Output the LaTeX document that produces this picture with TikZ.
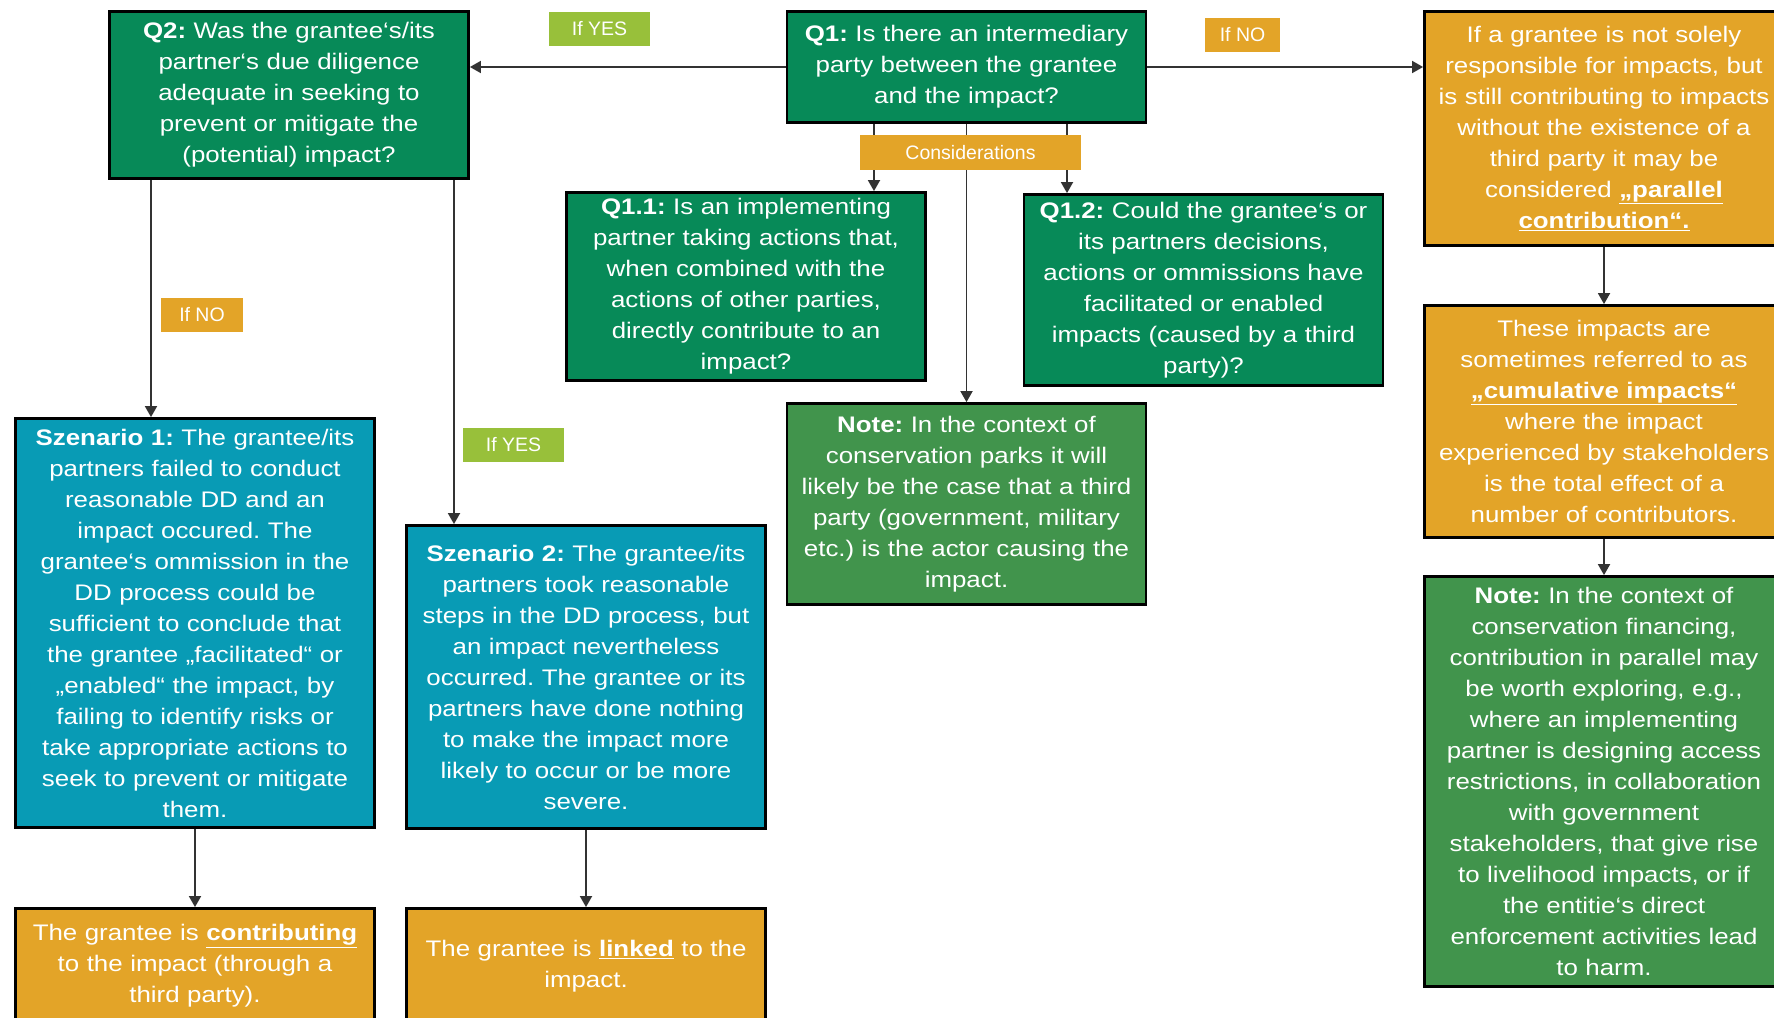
\documentclass[tikz,border=0pt]{standalone}
\usepackage{fontspec}
\setmainfont{Liberation Sans}
\newfontfamily\boxfont{Liberation Sans}[FakeStretch=1.15]
\usepackage{tikz}
\usetikzlibrary{arrows.meta,positioning}
\definecolor{qgreen}{HTML}{078A58}
\definecolor{ngreen}{HTML}{41944C}
\definecolor{dorange}{HTML}{E3A428}
\definecolor{dteal}{HTML}{089BB5}
\definecolor{lgreen}{HTML}{98C03A}
\newcommand{\ul}[1]{\underline{\textbf{#1}}}
\frenchspacing

\begin{document}
\begin{tikzpicture}[x=1pt, y=-1pt,
    box/.style={draw=black, line width=2.8pt, minimum width=359pt, text width=356pt,
                align=center, inner sep=0pt, text=white,
                font=\boxfont\fontsize{22.5}{31}\selectfont},
    qbox/.style={box, fill=qgreen},
    nbox/.style={box, fill=ngreen},
    obox/.style={box, fill=dorange},
    sbox/.style={box, fill=dteal},
    tag/.style={minimum height=34pt, inner sep=0pt, text=white,
                font=\fontsize{19.5}{22}\selectfont},
    yes/.style={tag, fill=lgreen},
    no/.style={tag, fill=dorange},
    arr/.style={-{Triangle[length=11pt, width=12pt]}, line width=1.8pt, black!80}
  ]
  \path[use as bounding box] (0,0) rectangle (1774,1017);
  \clip (0,0) rectangle (1774,1017);
  % --- Top row ---
  \node[qbox, minimum height=167pt] (Q2) at (289, 95)
    {\textbf{Q2:} Was the grantee‘s/its\\ partner‘s due diligence\\
     adequate in seeking to\\ prevent or mitigate the\\ (potential) impact?};
  \node[qbox, minimum height=111pt] (Q1) at (966.5, 67)
    {\textbf{Q1:} Is there an intermediary\\ party between the grantee\\
     and the impact?};
  \node[obox, minimum height=234pt] (R1) at (1604, 128.5)
    {If a grantee is not solely\\ responsible for impacts, but\\
     is still contributing to impacts\\ without the existence of a\\
     third party it may be\\ considered \ul{„parallel}\\ \ul{contribution“.}};
  \node[yes, minimum width=101pt] (yesQ2) at (599.5, 29) {If YES};
  \node[no, minimum width=75pt] (noQ1) at (1242.5, 35) {If NO};
  % --- Considerations ---
  \node[qbox, minimum height=188pt] (Q11) at (746, 286.5)
    {\textbf{Q1.1:} Is an implementing\\ partner taking actions that,\\
     when combined with the\\ actions of other parties,\\
     directly contribute to an\\ impact?};
  \node[qbox, minimum height=191pt] (Q12) at (1203.5, 290)
    {\textbf{Q1.2:} Could the grantee‘s or\\ its partners decisions,\\
     actions or ommissions have\\ facilitated or enabled\\
     impacts (caused by a third\\ party)?};
  \node[nbox, minimum height=201pt] (noteM) at (966.5, 504)
    {\textbf{Note:} In the context of\\ conservation parks it will\\
     likely be the case that a third\\ party (government, military\\
     etc.) is the actor causing the\\ impact.};
  % --- Right column ---
  \node[obox, minimum height=232pt] (R2) at (1604, 421.5)
    {These impacts are\\ sometimes referred to as\\ \ul{„cumulative impacts“}\\
     where the impact\\ experienced by stakeholders\\ is the total effect of a\\
     number of contributors.};
  \node[nbox, minimum height=410pt] (R3) at (1604, 781.5)
    {\textbf{Note:} In the context of\\ conservation financing,\\
     contribution in parallel may\\ be worth exploring, e.g.,\\
     where an implementing\\ partner is designing access\\
     restrictions, in collaboration\\ with government\\
     stakeholders, that give rise\\ to livelihood impacts, or if\\
     the entitie‘s direct\\ enforcement activities lead\\ to harm.};
  % --- Scenarios ---
  \node[sbox, minimum height=409pt] (S1) at (195, 623)
    {\textbf{Szenario 1:} The grantee/its\\ partners failed to conduct\\
     reasonable DD and an\\ impact occured. The\\
     grantee‘s ommission in the\\ DD process could be\\
     sufficient to conclude that\\ the grantee „facilitated“ or\\
     „enabled“ the impact, by\\ failing to identify risks or\\
     take appropriate actions to\\ seek to prevent or mitigate\\ them.};
  \node[sbox, minimum height=303pt] (S2) at (586, 677)
    {\textbf{Szenario 2:} The grantee/its\\ partners took reasonable\\
     steps in the DD process, but\\ an impact nevertheless\\
     occurred. The grantee or its\\ partners have done nothing\\
     to make the impact more\\ likely to occur or be more\\ severe.};
  \node[no, minimum width=82pt] (noQ2) at (202, 315) {If NO};
  \node[yes, minimum width=101pt] (yesS2) at (513.5, 445) {If YES};
  \node[obox, minimum height=115pt] (C1) at (195, 966)
    {The grantee is \ul{contributing}\\ to the impact (through a\\ third party).};
  \node[obox, minimum height=115pt] (C2) at (586, 966)
    {The grantee is \ul{linked} to the\\ impact.};
  % --- Connectors ---
  \draw[arr] (Q1.west) -- (Q1.west -| Q2.east);
  \draw[arr] (Q1.east) -- (Q1.east -| R1.west);
  \draw[arr] ([xshift=-138pt]Q2.south) -- ([xshift=-138pt]Q2.south |- S1.north);
  \draw[arr] ([xshift=165pt]Q2.south) -- ([xshift=165pt]Q2.south |- S2.north);
  \draw[arr] ([xshift=-92.5pt]Q1.south) -- ([xshift=-92.5pt]Q1.south |- Q11.north);
  \draw[arr] (Q1.south) -- (noteM.north);
  \draw[arr] ([xshift=100.5pt]Q1.south) -- ([xshift=100.5pt]Q1.south |- Q12.north);
  \draw[arr] (R1.south) -- (R2.north);
  \draw[arr] (R2.south) -- (R3.north);
  \draw[arr] (S1.south) -- (C1.north);
  \draw[arr] (S2.south) -- (C2.north);
  \node[no, minimum width=221pt, minimum height=35pt] (cons) at (970.5, 152.5)
    {Considerations};
\end{tikzpicture}
\end{document}
